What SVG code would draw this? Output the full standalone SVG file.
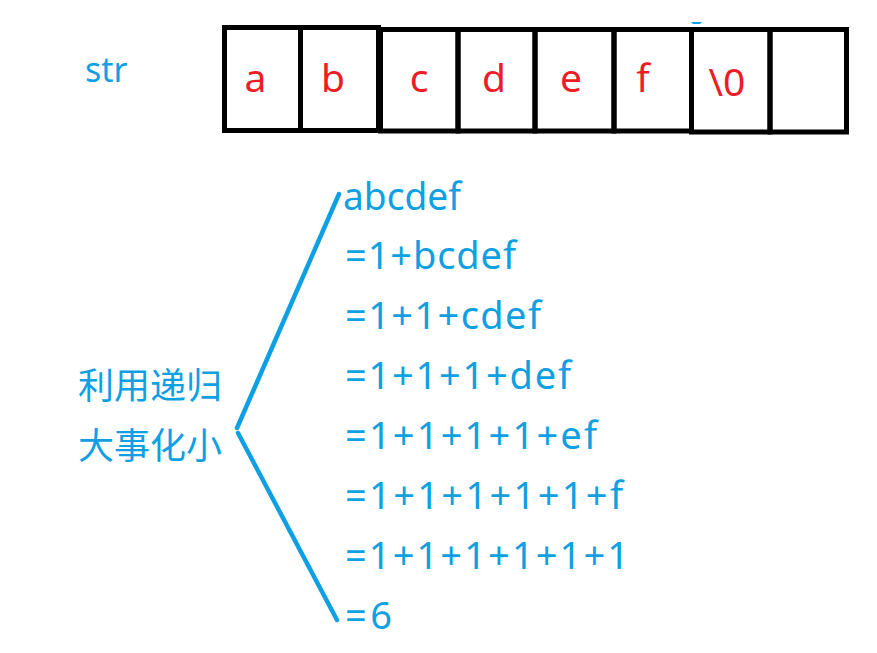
<svg xmlns="http://www.w3.org/2000/svg" width="877" height="653" viewBox="0 0 877 653">
<style>
.box{fill:none;stroke:#000;stroke-width:5}
.ch{font-family:"Noto Sans","Open Sans",sans-serif;font-size:39px;fill:#ee1c25;text-anchor:middle}
.bl{font-family:"Noto Sans","Open Sans",sans-serif;font-size:38px;fill:#0ea0e2}
.cjk{font-family:"Noto Sans CJK SC",sans-serif;font-size:36px;fill:#0ea0e2}
.ln{stroke:#0ea0e2;stroke-width:4.5;stroke-linecap:round;fill:none}
</style>
<rect width="877" height="653" fill="#fff"/>
<text id="str" class="bl" x="85" y="82" style="font-size:34px">str</text>
<g id="array">
  <g id="cell-a"><rect class="box" x="224.5" y="27.5" width="76" height="103"/><text class="ch" x="255.5" y="92">a</text></g>
  <g id="cell-b"><rect class="box" x="300.5" y="27.5" width="78" height="103"/><text class="ch" x="333" y="92">b</text></g>
  <g id="cell-c"><rect class="box" x="380.5" y="29.5" width="77.5" height="101.5"/><text class="ch" x="419" y="92">c</text></g>
  <g id="cell-d"><rect class="box" x="458" y="29.5" width="77" height="101.5"/><text class="ch" x="494" y="92">d</text></g>
  <g id="cell-e"><rect class="box" x="535" y="29.5" width="79" height="101.5"/><text class="ch" x="571" y="92">e</text></g>
  <g id="cell-f"><rect class="box" x="614" y="29.5" width="77.5" height="101.5"/><text class="ch" x="643" y="92">f</text></g>
  <g id="cell-nul"><rect class="box" x="691.5" y="29.5" width="78.5" height="102.5"/><text class="ch" x="727" y="96">\0</text></g>
  <g id="cell-empty"><rect class="box" x="770" y="29.5" width="76.5" height="102.5"/></g>
</g>
<path d="M691 22 L702 22 L700 24 L693 24 Z" fill="#0ea0e2"/>
<g id="label">
  <text class="cjk" x="78" y="399">利用递归</text>
  <text class="cjk" x="78" y="459">大事化小</text>
</g>
<g id="connectors">
  <line class="ln" x1="237" y1="428" x2="339" y2="194"/>
  <line class="ln" x1="238" y1="433" x2="337" y2="620"/>
</g>
<g id="steps">
  <text class="bl" x="343" y="210" textLength="118" lengthAdjust="spacingAndGlyphs">abcdef</text>
  <text class="bl" x="345" y="269" textLength="171" lengthAdjust="spacing">=1+bcdef</text>
  <text class="bl" x="345" y="329" textLength="196" lengthAdjust="spacing">=1+1+cdef</text>
  <text class="bl" x="345" y="389" textLength="226" lengthAdjust="spacing">=1+1+1+def</text>
  <text class="bl" x="345" y="449" textLength="252" lengthAdjust="spacing">=1+1+1+1+ef</text>
  <text class="bl" x="345" y="509" textLength="278" lengthAdjust="spacing">=1+1+1+1+1+f</text>
  <text class="bl" x="345" y="569" textLength="284" lengthAdjust="spacing">=1+1+1+1+1+1</text>
  <text class="bl" x="345" y="629" textLength="47" lengthAdjust="spacing">=6</text>
</g>
</svg>
